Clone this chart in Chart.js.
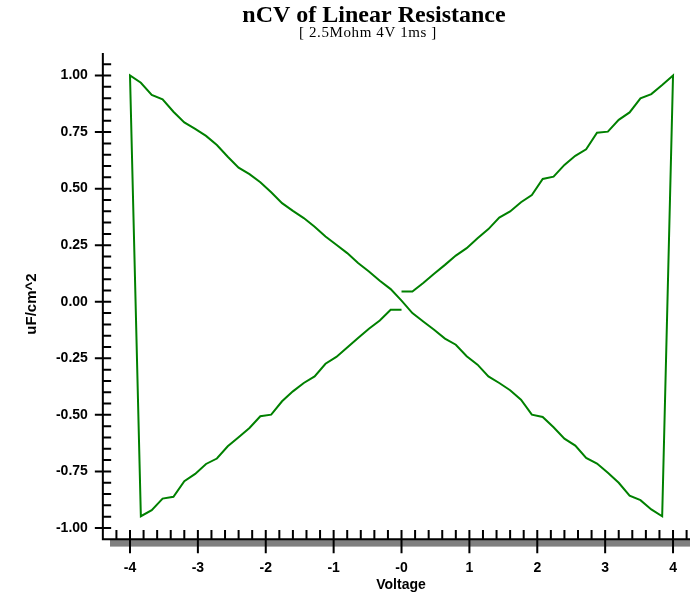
<!DOCTYPE html>
<html>
<head>
<meta charset="utf-8">
<script src="https://cdn.jsdelivr.net/npm/chart.js@4"></script>
<style>
  html, body { margin: 0; padding: 0; background: #ffffff; }
  #wrap { width: 690px; height: 594px; }
</style>
</head>
<body>
<div id="wrap"><canvas id="c" width="690" height="594"></canvas></div>
<script>
// ---- Data ----
// Sweep 1: 0 V -> +4 V
const sweep1Voltage = [0.00, 0.16, 0.32, 0.48, 0.64, 0.80, 0.96, 1.12, 1.28, 1.44, 1.60, 1.76, 1.92,
  2.08, 2.24, 2.40, 2.56, 2.72, 2.88, 3.04, 3.20, 3.36, 3.52, 3.68, 3.84, 4.00];
const sweep1Cap = [0.045, 0.045, 0.083, 0.124, 0.163, 0.204, 0.237, 0.281, 0.321, 0.372, 0.399, 0.440, 0.472,
  0.543, 0.553, 0.605, 0.645, 0.674, 0.747, 0.752, 0.804, 0.837, 0.899, 0.918, 0.958, 1.000];
// Sweep 2: +3.84 V -> -4 V
const sweep2Voltage = [3.84, 3.68, 3.52, 3.36, 3.20, 3.04, 2.88, 2.72, 2.56, 2.40, 2.24, 2.08, 1.92, 1.76,
  1.60, 1.44, 1.28, 1.12, 0.96, 0.80, 0.64, 0.48, 0.32, 0.16, 0.00, -0.16, -0.32, -0.48, -0.64, -0.80,
  -0.96, -1.12, -1.28, -1.44, -1.60, -1.76, -1.92, -2.08, -2.24, -2.40, -2.56, -2.72, -2.88, -3.04,
  -3.20, -3.36, -3.52, -3.68, -3.84, -4.00];
const sweep2Cap = [-0.948, -0.918, -0.877, -0.857, -0.800, -0.756, -0.715, -0.690, -0.636, -0.605, -0.555,
  -0.509, -0.499, -0.433, -0.391, -0.359, -0.330, -0.278, -0.241, -0.190, -0.163, -0.124, -0.087, -0.050,
  0.005, 0.056, 0.093, 0.134, 0.171, 0.215, 0.252, 0.288, 0.332, 0.370, 0.402, 0.436, 0.484, 0.528,
  0.564, 0.593, 0.641, 0.693, 0.733, 0.764, 0.793, 0.840, 0.895, 0.914, 0.968, 1.000];
// Sweep 3: -3.84 V -> 0 V
const sweep3Voltage = [-3.84, -3.68, -3.52, -3.36, -3.20, -3.04, -2.88, -2.72, -2.56, -2.40, -2.24, -2.08,
  -1.92, -1.76, -1.60, -1.44, -1.28, -1.12, -0.96, -0.80, -0.64, -0.48, -0.32, -0.16, 0.00];
const sweep3Cap = [-0.948, -0.921, -0.870, -0.862, -0.793, -0.761, -0.717, -0.693, -0.639, -0.599, -0.558,
  -0.506, -0.499, -0.440, -0.396, -0.359, -0.330, -0.274, -0.244, -0.202, -0.160, -0.119, -0.083, -0.035, -0.035];

// Tick labels
const xTickValues = [-4, -3, -2, -1, 0, 1, 2, 3, 4];
const xTickLabels = ['-4', '-3', '-2', '-1', '-0', '1', '2', '3', '4'];
const yTickValues = [-1.0, -0.75, -0.5, -0.25, 0, 0.25, 0.5, 0.75, 1.0];
const yTickLabels = ['-1.00', '-0.75', '-0.50', '-0.25', '0.00', '0.25', '0.50', '0.75', '1.00'];
const xMinorStep = 0.2;
const yMinorStep = 0.05;

const titleText = 'nCV of Linear Resistance';
const subtitleText = '[ 2.5Mohm 4V 1ms ]';
const xTitle = 'Voltage';
const yTitle = 'uF/cm^2';

// ---- Build path ----
const points = [];
sweep1Voltage.forEach((v, i) => points.push({x: v, y: sweep1Cap[i]}));
sweep2Voltage.forEach((v, i) => points.push({x: v, y: sweep2Cap[i]}));
sweep3Voltage.forEach((v, i) => points.push({x: v, y: sweep3Cap[i]}));

const SANS = '"Liberation Sans", Arial, sans-serif';
const SERIF = '"Liberation Serif", "Times New Roman", serif';

const axesPlugin = {
  id: 'axesPlugin',
  afterDraw(chart) {
    const ctx = chart.ctx;
    const xs = chart.scales.x, ys = chart.scales.y;
    const area = chart.chartArea;
    const L = area.left, R = area.right, T = area.top, B = area.bottom;
    ctx.save();
    // shadow bar under x axis
    ctx.fillStyle = '#808080';
    ctx.fillRect(110, B + 0.5, 690 - 110, 6.8);
    ctx.strokeStyle = '#000';
    ctx.lineWidth = 2;
    ctx.lineCap = 'butt';
    // axis lines
    ctx.beginPath();
    ctx.moveTo(L, T); ctx.lineTo(L, B);
    ctx.moveTo(L - 1, B); ctx.lineTo(690, B);
    ctx.stroke();
    // x ticks
    ctx.beginPath();
    for (let k = -22; k <= 21; k++) {
      const v = k * xMinorStep;
      if (v <= xs.min + 1e-6 || v > xs.max) continue;
      const px = xs.getPixelForValue(v);
      const major = Math.abs(v - Math.round(v)) < 1e-6;
      ctx.moveTo(px, B - 9.3);
      ctx.lineTo(px, major ? B + 14 : B);
    }
    // y ticks
    for (let k = -21; k <= 22; k++) {
      const v = k * yMinorStep;
      if (v <= ys.min + 1e-6 || v >= ys.max - 1e-6) continue;
      const py = ys.getPixelForValue(v);
      const major = Math.abs(v * 4 - Math.round(v * 4)) < 1e-6;
      ctx.moveTo(major ? L - 8 : L, py);
      ctx.lineTo(L + 8.3, py);
    }
    ctx.stroke();
    // titles
    ctx.fillStyle = '#000';
    ctx.textAlign = 'center';
    ctx.textBaseline = 'alphabetic';
    ctx.font = 'bold 24px ' + SERIF;
    ctx.fillText(titleText, 374, 22);
    ctx.font = '15px ' + SERIF;
    if ('letterSpacing' in ctx) ctx.letterSpacing = '0.6px';
    ctx.fillText(subtitleText, 368, 37);
    if ('letterSpacing' in ctx) ctx.letterSpacing = '0px';
    ctx.font = 'bold 14px ' + SANS;
    ctx.fillText(xTitle, 401, 589);
    ctx.translate(36, 304);
    ctx.rotate(-Math.PI / 2);
    ctx.font = 'bold 15px ' + SANS;
    ctx.fillText(yTitle, 0, 0);
    ctx.restore();
  }
};

new Chart(document.getElementById('c'), {
  type: 'line',
  data: {
    datasets: [{
      data: points,
      borderColor: '#008000',
      backgroundColor: '#008000',
      borderWidth: 2,
      pointRadius: 0,
      tension: 0,
      fill: false
    }]
  },
  options: {
    responsive: false,
    animation: false,
    devicePixelRatio: 1,
    layout: { padding: { top: 52.9, right: 0, bottom: 0, left: 0 } },
    plugins: { legend: { display: false }, title: { display: false }, tooltip: { enabled: false } },
    scales: {
      x: {
        type: 'linear', position: 'bottom', min: -4.4, max: 4.25,
        afterBuildTicks: s => { s.ticks = xTickValues.map(v => ({ value: v })); },
        afterFit: s => { s.height = 594 - 539.3; s.paddingLeft = 0; s.paddingRight = 0; s.paddingTop = 0; s.paddingBottom = 0; },
        grid: { display: false, drawTicks: false },
        border: { display: false },
        ticks: {
          padding: 20, autoSkip: false, maxRotation: 0, color: '#000',
          font: { family: SANS, size: 14, weight: 'bold' },
          callback: (v, i) => xTickLabels[i]
        }
      },
      y: {
        type: 'linear', position: 'left', min: -1.05, max: 1.10,
        afterBuildTicks: s => { s.ticks = yTickValues.map(v => ({ value: v })); },
        afterFit: s => { s.width = 102.85; s.paddingLeft = 0; s.paddingRight = 0; s.paddingTop = 0; s.paddingBottom = 0; },
        grid: { display: false, drawTicks: false },
        border: { display: false },
        ticks: {
          padding: 15, autoSkip: false, color: '#000',
          font: { family: SANS, size: 14, weight: 'bold' },
          callback: (v, i) => yTickLabels[i]
        }
      }
    }
  },
  plugins: [axesPlugin]
});
</script>
</body>
</html>
